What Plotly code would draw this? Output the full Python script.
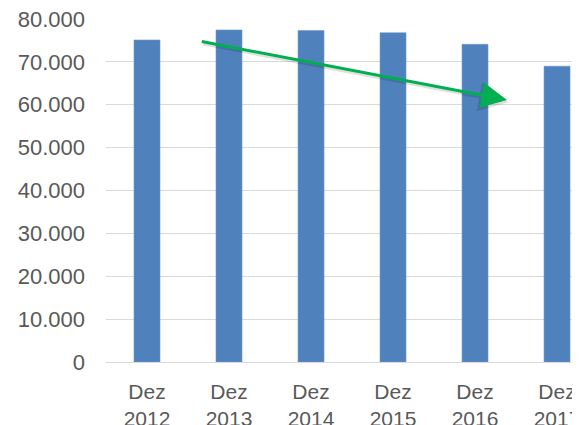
import plotly.graph_objects as go

categories = ["Dez<br>2012", "Dez<br>2013", "Dez<br>2014", "Dez<br>2015", "Dez<br>2016", "Dez<br>2017"]
values = [75100, 77450, 77300, 76800, 74100, 69000]
y_ticks = [0, 10000, 20000, 30000, 40000, 50000, 60000, 70000, 80000]
# trend arrow (data coordinates: category index, value)
arrow_start = (0.65, 74800)
arrow_end = (4.39, 61100)

x_idx = list(range(len(categories)))

fig = go.Figure()
fig.add_trace(go.Bar(
    x=x_idx, y=values, width=0.317,
    marker=dict(color="#4f81bd", line=dict(width=0.6, color="#6f98cc")),
))

font = dict(family="Liberation Sans, Arial, sans-serif", size=22, color="#595959")
xfont = dict(family="Liberation Sans, Arial, sans-serif", size=21, color="#595959")

# shadow of arrow
fig.add_annotation(
    x=arrow_end[0] + 0.02, y=arrow_end[1] - 500, ax=arrow_start[0] + 0.02, ay=arrow_start[1] - 500,
    xref="x", yref="y", axref="x", ayref="y", text="", showarrow=True,
    arrowhead=2, arrowsize=1.7, arrowwidth=3.5, arrowcolor="rgba(0,0,0,0.12)",
)
fig.add_annotation(
    x=arrow_end[0], y=arrow_end[1], ax=arrow_start[0], ay=arrow_start[1],
    xref="x", yref="y", axref="x", ayref="y", text="", showarrow=True,
    arrowhead=2, arrowsize=1.7, arrowwidth=3, arrowcolor="#00b050",
)

fig.update_layout(
    width=572, height=417,
    margin=dict(l=98, r=0, t=11, b=63, autoexpand=False),
    paper_bgcolor="white", plot_bgcolor="white",
    separators=",.",
    showlegend=False,
    font=font,
    xaxis=dict(
        range=[-0.5, 5.28], tickvals=x_idx, ticktext=categories,
        showgrid=False, zeroline=False, showline=False, ticks="",
        tickfont=xfont, ticklabelstandoff=15, ticklabeloverflow="allow",
        automargin=False,
    ),
    yaxis=dict(
        range=[0, 80000], tickvals=y_ticks, tickformat=",d",
        showgrid=True, gridcolor="#d9d9d9", gridwidth=1.3,
        zeroline=True, zerolinecolor="#d9d9d9", zerolinewidth=1.3,
        showline=False, ticks="", ticklabelstandoff=20,
        tickfont=font, ticklabeloverflow="allow", automargin=False,
    ),
)

fig.write_html("out.html")
